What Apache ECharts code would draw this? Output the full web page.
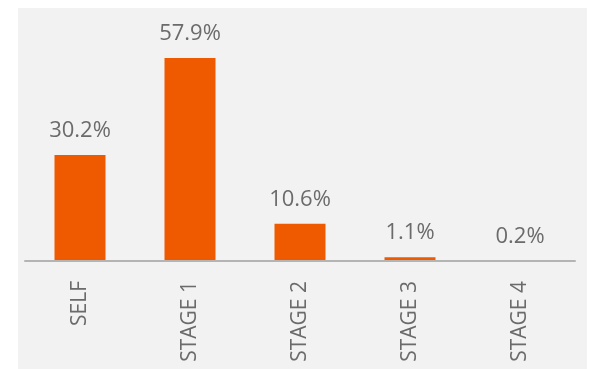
<!DOCTYPE html>
<html>
<head>
<meta charset="utf-8">
<script src="https://cdn.jsdelivr.net/npm/echarts@6/dist/echarts.min.js"></script>
<style>
html,body{margin:0;padding:0;background:#fff;}
#c{width:589px;height:369px;}
</style>
</head>
<body>
<div id="c"></div>
<script>
var categories = ['SELF', 'STAGE 1', 'STAGE 2', 'STAGE 3', 'STAGE 4'];
var values = [30.2, 57.9, 10.6, 1.1, 0.2];

var chart = echarts.init(document.getElementById('c'), null, {renderer: 'canvas'});
chart.setOption({
  backgroundColor: '#ffffff',
  animation: false,
  graphic: [{
    type: 'rect', z: -10,
    shape: {x: 18, y: 8, width: 569, height: 361},
    style: {fill: '#f2f2f2'}
  }],
  grid: {left: 25, right: 14, top: 58, bottom: 108, containLabel: false},
  xAxis: {
    type: 'category',
    data: categories,
    z: 5,
    axisLine: {show: true, lineStyle: {color: '#b4b4b4', width: 2}},
    axisTick: {show: false},
    axisLabel: {
      rotate: 90, margin: 20, color: '#6b6b6b',
      fontFamily: 'Open Sans', fontSize: 21
    }
  },
  yAxis: {type: 'value', min: 0, max: 57.9, show: false, splitLine: {show: false}},
  series: [{
    type: 'bar',
    data: values,
    barWidth: 51,
    itemStyle: {color: '#ef5a00'},
    label: {
      show: true, position: 'top', distance: 13,
      color: '#6b6b6b', fontFamily: 'Open Sans', fontSize: 22,
      formatter: function (p) { return p.value.toFixed(1) + '%'; }
    }
  }]
});
</script>
</body>
</html>
